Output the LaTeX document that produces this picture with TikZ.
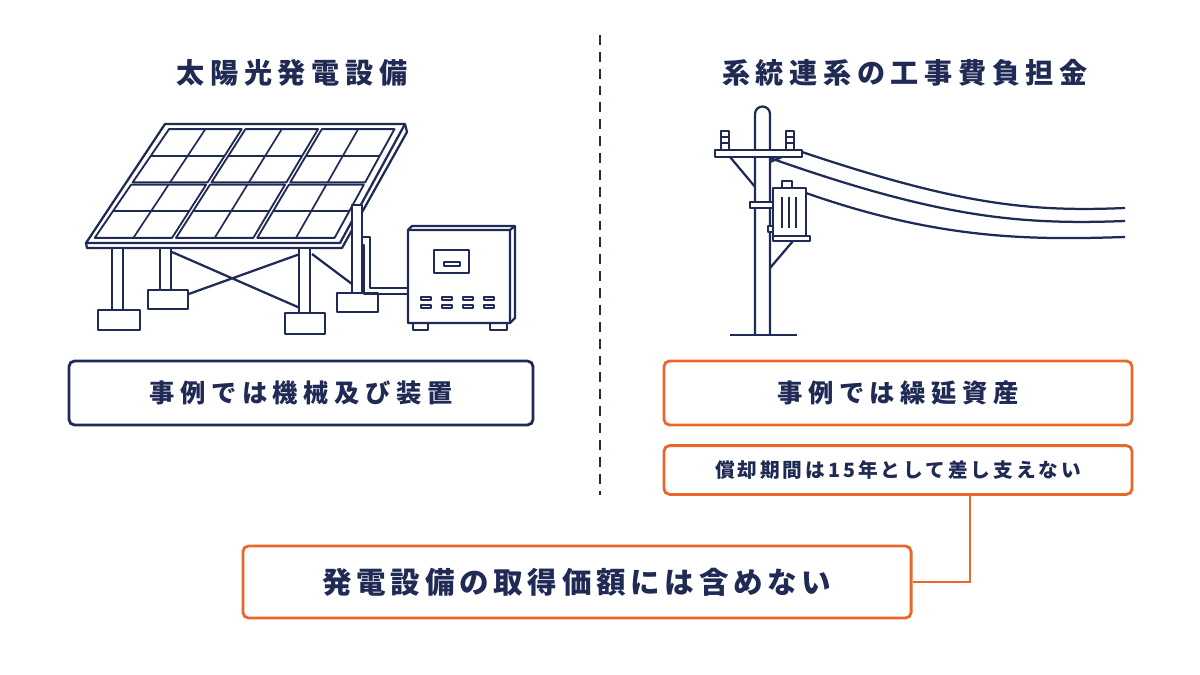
\documentclass[tikz,border=0pt]{standalone}
\usepackage{fontspec}
\setmainfont{Noto Sans CJK JP}
\newfontfamily\jptitle[LetterSpace=20]{Noto Sans CJK JP}
\newfontfamily\jplabel[LetterSpace=22]{Noto Sans CJK JP}
\newfontfamily\jpbig[LetterSpace=16]{Noto Sans CJK JP}
\newfontfamily\jpsmall[LetterSpace=15]{Noto Sans CJK JP}
\usetikzlibrary{positioning}
\definecolor{navy}{HTML}{1F2A55}
\definecolor{ora}{HTML}{E8672A}
\tikzset{
  line/.style={draw=navy, line width=1.6pt, line join=round},
  title/.style={text=navy, font=\jptitle\bfseries\fontsize{20}{24}\selectfont},
  navybox/.style={draw=navy, line width=2pt, rounded corners=4pt, fill=white},
  orabox/.style={draw=ora, line width=2pt, rounded corners=4pt, fill=white},
  label/.style={text=navy, font=\jplabel\bfseries\fontsize{18}{21}\selectfont},
}
\begin{document}
\begin{tikzpicture}[x=0.025cm, y=-0.025cm]
            \useasboundingbox (0,0) rectangle (1200,675);
            % Titles
            \node[title] (tl) at (292,73) {太陽光発電設備};
            \node[title] (tr) at (905,73) {系統連系の工事費負担金};
            \draw[navy, line width=1.6pt, dash pattern=on 7pt off 5pt] (600,35) -- (600,495);

            % Solar panel
            \draw[line, fill=white] (165,124) -- (405,124) -- (407,132) -- (342,248) -- (87,248) -- (86,243) -- cycle;
            \draw[line] (86,243) -- (340,243) -- (405,124);
            \foreach \r in {0,1} {
              \foreach \c in {0,1,2} {
                \pgfmathsetmacro{\ta}{\r*0.5+0.01}
                \pgfmathsetmacro{\tb}{\r*0.5+0.49}
                \pgfmathsetmacro{\xa}{\c/3+0.008}
                \pgfmathsetmacro{\xb}{\c/3+0.325}
                % module corners (top y=128, bottom y=239)
                \pgfmathsetmacro{\ya}{128+111*\ta}
                \pgfmathsetmacro{\yb}{128+111*\tb}
                \pgfmathsetmacro{\la}{168-76*\ta}
                \pgfmathsetmacro{\lb}{168-76*\tb}
                \pgfmathsetmacro{\wa}{229+15*\ta}
                \pgfmathsetmacro{\wb}{229+15*\tb}
                \draw[line, line width=1.3pt] (\la+\wa*\xa,\ya) -- (\la+\wa*\xb,\ya) -- (\lb+\wb*\xb,\yb) -- (\lb+\wb*\xa,\yb) -- cycle;
                \pgfmathsetmacro{\ym}{(\ya+\yb)/2}
                \pgfmathsetmacro{\lm}{(\la+\lb)/2}
                \pgfmathsetmacro{\wm}{(\wa+\wb)/2}
                \pgfmathsetmacro{\xm}{(\xa+\xb)/2}
                \draw[line, line width=1.2pt] (\lm+\wm*\xa,\ym) -- (\lm+\wm*\xb,\ym);
                \draw[line, line width=1.2pt] (\la+\wa*\xm,\ya) -- (\lb+\wb*\xm,\yb);
              }
            }
            % Legs and braces
            \draw[line] (172,252) -- (300,308) (172,300) -- (300,254) (312,254) -- (352,284);
            \draw[line, fill=white] (112,248) rectangle (123,310);
            \draw[line, fill=white] (160,248) rectangle (171,292);
            \draw[line, fill=white] (299,248) rectangle (310,313);
            \draw[line, fill=white] (352,205) rectangle (362,293);
            \draw[line, fill=white] (98,310) rectangle (140,330);
            \draw[line, fill=white] (148,290) rectangle (188,309);
            \draw[line, fill=white] (285,313) rectangle (325,334);
            \draw[line, fill=white] (337,293) rectangle (378,312);
            % Cable
            \draw[line] (362,237) -- (370,237) -- (370,288) -- (408,288);
            \draw[line] (362,245) -- (364,245) -- (364,294) -- (408,294);
            % Inverter
            \draw[line, fill=white] (408,230) -- (412,226) -- (515,226) -- (515,318) -- (510,323) -- (408,323) -- cycle;
            \draw[line] (510,230) -- (515,226) (510,230) -- (510,323) (408,230) -- (510,230);
            \draw[line] (413,323) rectangle (428,330) (490,323) rectangle (507,330);
            \draw[line] (434,250) rectangle (469,273) (444,262) rectangle (460,266);
            \foreach \i in {0,...,3} {
              \draw[line, line width=1.1pt] (421+\i*21,297) rectangle (431+\i*21,300);
              \draw[line, line width=1.1pt] (421+\i*21,305) rectangle (431+\i*21,308);
            }

            % Utility pole
            \draw[line] (802,152) .. controls (960,205) and (1030,212) .. (1125,208);
            \draw[line] (770,158) .. controls (940,218) and (1020,225) .. (1125,221);
            \draw[line] (806,193) .. controls (940,240) and (1030,240) .. (1125,237);
            \draw[line] (730,157) -- (756,188) (770,162) -- (782,157) (770,268) -- (793,241);
            \draw[line, fill=white] (755,335) -- (755,114) arc (180:360:7.5) -- (770,335);
            \draw[line] (730,335) -- (797,335);
            \draw[line, fill=white] (715,150) rectangle (802,157);
            \foreach \x in {725,790} {
              \draw[line, fill=white] (\x-4,131) rectangle (\x+4,150);
              \draw[line] (\x-5,137) -- (\x+5,137) (\x-5,143) -- (\x+5,143);
            }
            \draw[line, fill=white] (750,202) rectangle (773,208);
            \draw[line, fill=white] (768,226) rectangle (773,232);
            \draw[line, fill=white] (782,188) -- (782,181) -- (792,181) -- (792,188);
            \draw[line, fill=white] (773,188) rectangle (806,236);
            \draw[line, fill=white] (773,236) rectangle (810,241);
            \draw[line] (782,197) -- (782,228) (789,197) -- (789,228) (796,197) -- (796,228);

            % Boxes
            \node[navybox, minimum width=11.6cm, minimum height=1.6cm, label] (mach) at (301,393) {事例では機械及び装置};
            \node[orabox, minimum width=11.7cm, minimum height=1.6cm, label] (defer) at (898,393) {事例では繰延資産};
            \node[orabox, minimum width=11.7cm, minimum height=1.22cm, text=navy, font=\jpsmall\bfseries\fontsize{14}{17}\selectfont] (depr) at (898,470) {償却期間は15年として差し支えない};
            \node[orabox, minimum width=16.7cm, minimum height=1.8cm, text=navy, font=\jpbig\bfseries\fontsize{21}{25}\selectfont] (excl) at (577,582) {発電設備の取得価額には含めない};
            \draw[ora, line width=2pt] (depr.south -| 970,0) |- (excl.east);
\end{tikzpicture}
\end{document}
